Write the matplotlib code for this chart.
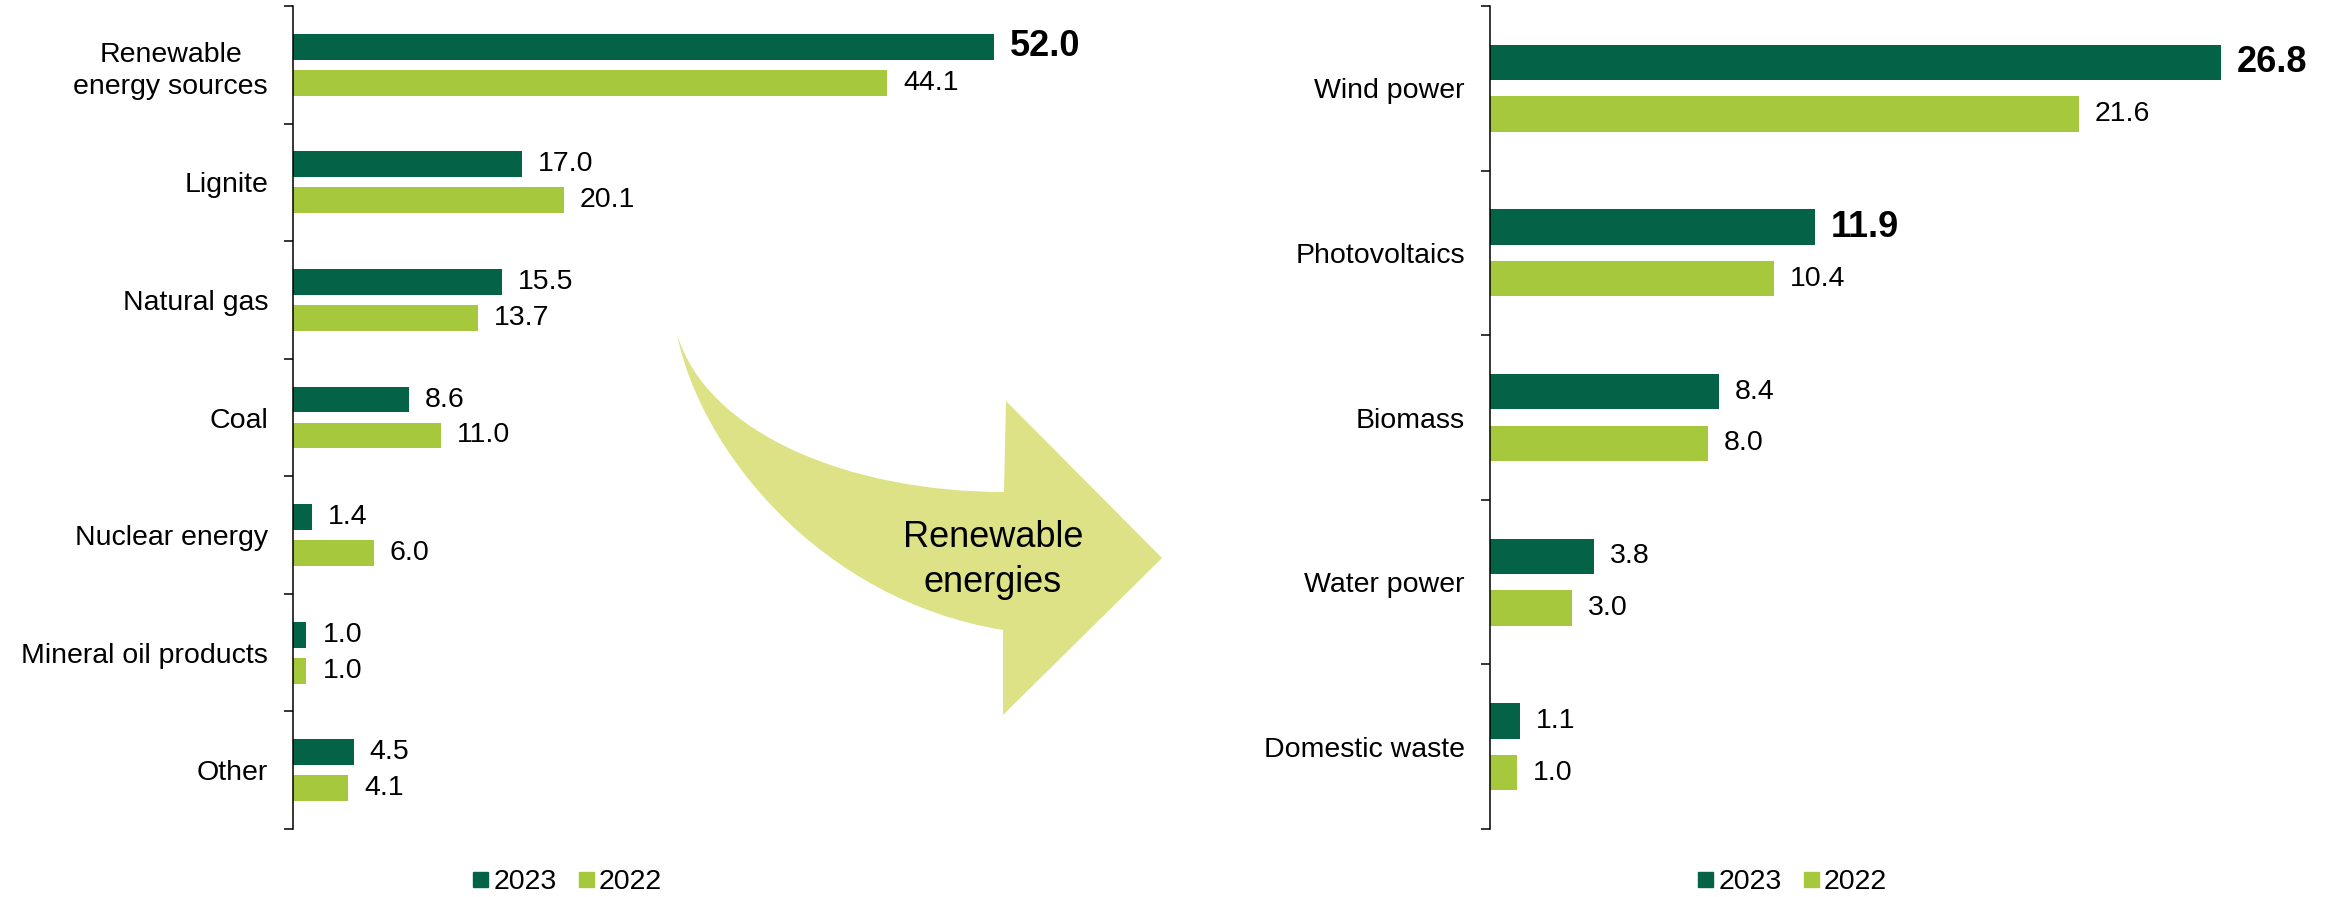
import numpy as np
import matplotlib
matplotlib.use("Agg")
import matplotlib.pyplot as plt
from matplotlib.path import Path
from matplotlib.patches import PathPatch
from matplotlib.lines import Line2D

plt.rcParams['font.family'] = ['Liberation Sans', 'DejaVu Sans']

# ---------------- data ----------------
left_categories = ["Renewable\nenergy sources", "Lignite", "Natural gas", "Coal",
                   "Nuclear energy", "Mineral oil products", "Other"]
left_2023 = [52.0, 17.0, 15.5, 8.6, 1.4, 1.0, 4.5]
left_2022 = [44.1, 20.1, 13.7, 11.0, 6.0, 1.0, 4.1]

right_categories = ["Wind power", "Photovoltaics", "Biomass", "Water power", "Domestic waste"]
right_2023 = [26.8, 11.9, 8.4, 3.8, 1.1]
right_2022 = [21.6, 10.4, 8.0, 3.0, 1.0]

series_labels = ["2023", "2022"]
bold_left = ["Renewable\nenergy sources"]
bold_right = ["Wind power", "Photovoltaics"]
arrow_text = "Renewable\nenergies"

DARK = "#046346"
LIGHT = "#A5C83C"
ARROW = "#DCE285"

W, H = 2339, 897
fig = plt.figure(figsize=(W / 100, H / 100), dpi=100)


def px_rect(x0, y_top, x1, y_bot):
    return [x0 / W, 1 - y_bot / H, (x1 - x0) / W, (y_bot - y_top) / H]


def draw(ax, cats, v23, v22, height, offset, bold_cats, xmax):
    y = np.arange(len(cats))
    b1 = ax.barh(y - offset, v23, height=height, color=DARK, edgecolor="none")
    b2 = ax.barh(y + offset, v22, height=height, color=LIGHT, edgecolor="none")
    ax.set_ylim(len(cats) - 0.5, -0.5)
    ax.set_xlim(0, xmax)
    t1 = ax.bar_label(b1, fmt="%.1f", padding=11.5, fontsize=20.5)
    ax.bar_label(b2, fmt="%.1f", padding=11.5, fontsize=20.5)
    for t, c in zip(t1, cats):
        if c in bold_cats:
            t.set_fontweight("bold")
            t.set_fontsize(26)
    for s in ["top", "right", "bottom"]:
        ax.spines[s].set_visible(False)
    ax.spines["left"].set_linewidth(1.1)
    ax.set_xticks([])
    ax.set_yticks(y)
    ax.set_yticklabels(cats, fontsize=20.5)
    for lbl in ax.get_yticklabels():
        lbl.set_multialignment("center")
        lbl.set_linespacing(1.3)
    ax.tick_params(axis="y", which="major", length=0, pad=18)
    ax.set_yticks(np.arange(len(cats) + 1) - 0.5, minor=True)
    ax.tick_params(axis="y", which="minor", length=6.5, width=1.1)
    ax.set_facecolor("none")


axL = fig.add_axes(px_rect(293, 6, 293 + 58 * 13.48, 829))
draw(axL, left_categories, left_2023, left_2022, 0.22, 0.153, bold_left, 58)

axR = fig.add_axes(px_rect(1490, 6, 1490 + 30 * 27.27, 829))
draw(axR, right_categories, right_2023, right_2022, 0.215, 0.157, bold_right, 30)

handles = [Line2D([], [], ls="none", marker="s", markersize=10.8, color=DARK),
           Line2D([], [], ls="none", marker="s", markersize=10.8, color=LIGHT)]
for cx in (567, 1792):
    fig.legend(handles, series_labels, loc="center", bbox_to_anchor=(cx / W, 1 - 882 / H),
               ncol=2, frameon=False, fontsize=20.5, handlelength=0.55,
               handletextpad=0.2, columnspacing=0.75, borderpad=0, borderaxespad=0)

# ---------------- curved arrow (decoration) ----------------
ov = fig.add_axes([0, 0, 1, 1])
ov.set_xlim(0, W)
ov.set_ylim(H, 0)
ov.axis("off")
ov.patch.set_alpha(0)
verts = [
    (677, 334),
    (707, 434), (850, 492), (1004, 492),   # upper curve
    (1006, 401),                            # head top corner
    (1162, 558),                            # tip
    (1003, 715),                            # head bottom corner
    (1003, 630),
    (820, 600), (700, 450), (677, 334),     # lower curve back to tail
    (677, 334),
]
codes = [Path.MOVETO,
         Path.CURVE4, Path.CURVE4, Path.CURVE4,
         Path.LINETO, Path.LINETO, Path.LINETO, Path.LINETO,
         Path.CURVE4, Path.CURVE4, Path.CURVE4,
         Path.CLOSEPOLY]
ov.add_patch(PathPatch(Path(verts, codes), facecolor=ARROW, edgecolor="none"))
ov.text(993, 560, arrow_text, ha="center", va="center", multialignment="center",
        fontsize=26, linespacing=1.35)

fig.savefig("out.png", dpi=100)
